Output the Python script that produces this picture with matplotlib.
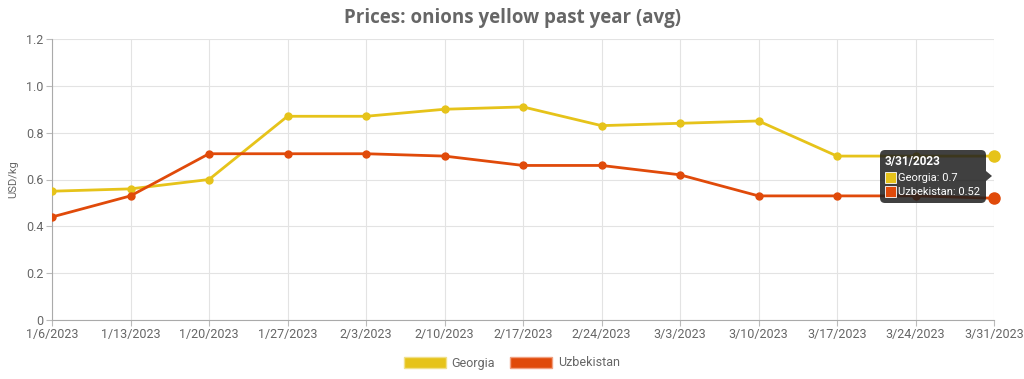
import matplotlib.pyplot as plt
from matplotlib.patches import Patch, FancyBboxPatch, Rectangle, Polygon

dates = ["1/6/2023", "1/13/2023", "1/20/2023", "1/27/2023", "2/3/2023", "2/10/2023",
         "2/17/2023", "2/24/2023", "3/3/2023", "3/10/2023", "3/17/2023", "3/24/2023",
         "3/31/2023"]
georgia = [0.55, 0.56, 0.60, 0.87, 0.87, 0.90, 0.91, 0.83, 0.84, 0.85, 0.70, 0.70, 0.70]
uzbekistan = [0.44, 0.53, 0.71, 0.71, 0.71, 0.70, 0.66, 0.66, 0.62, 0.53, 0.53, 0.53, 0.52]
y_ticks = [0, 0.2, 0.4, 0.6, 0.8, 1.0, 1.2]

c_geo = "#e6c31a"
c_uzb = "#e04a0a"
grey = "#666666"
H = 379

plt.rcParams['font.family'] = ['Roboto', 'DejaVu Sans']

fig = plt.figure(figsize=(10.24, 3.79), dpi=100)
ax = fig.add_axes([52 / 1024, 59 / H, 942 / 1024, 281 / H])

x = list(range(len(dates)))
ax.plot(x, georgia, color=c_geo, lw=2.0, marker='o', ms=5, zorder=3)
ax.plot(x, uzbekistan, color=c_uzb, lw=2.0, marker='o', ms=5, zorder=3)
# hovered points
ax.plot(x[-1], georgia[-1], 'o', color=c_geo, ms=8, zorder=4, clip_on=False)
ax.plot(x[-1], uzbekistan[-1], 'o', color=c_uzb, ms=8, zorder=4, clip_on=False)

ax.set_xlim(0, len(dates) - 1)
ax.set_ylim(0, 1.2)
ax.set_xticks(x)
ax.set_xticklabels(dates, fontsize=9, color=grey)
ax.set_yticks(y_ticks)
ax.set_yticklabels(["0", "0.2", "0.4", "0.6", "0.8", "1.0", "1.2"], fontsize=9, color=grey)
ax.tick_params(axis='both', length=4, color="#bbbbbb", pad=2)
ax.grid(color="#e3e3e3", lw=0.8)
for s in ['top', 'right']:
    ax.spines[s].set_visible(False)
for s in ['left', 'bottom']:
    ax.spines[s].set_color("#aaaaaa")
ax.set_ylabel("USD/kg", fontsize=8, color=grey, labelpad=6)

fig.text(0.5, 1 - 18 / H, "Prices: onions yellow past year (avg)", ha='center', va='center',
         fontsize=13.5, fontweight='bold', color="#666666", family=['Open Sans', 'DejaVu Sans'])

# tooltip (pixel coordinates, origin bottom-left)
tip = FancyBboxPatch((880, H - 203), 106, 53, boxstyle="round,pad=0,rounding_size=5",
                     transform=None, facecolor="#1e1e1e", alpha=0.85, edgecolor='none', zorder=10)
fig.patches.append(tip)
fig.patches.append(Polygon([(986, H - 171), (992, H - 176), (986, H - 181)], closed=True,
                           transform=None, facecolor="#1e1e1e", alpha=0.85,
                           edgecolor='none', zorder=10))
fig.text(885 / 1024, 1 - 161 / H, dates[-1], fontsize=8.5, fontweight='bold', color='white',
         va='center', ha='left', zorder=11)
for i, (name, col, val) in enumerate([("Georgia", c_geo, georgia[-1]),
                                      ("Uzbekistan", c_uzb, uzbekistan[-1])]):
    yy = 178 + i * 14
    fig.patches.append(Rectangle((885, H - yy - 5), 11, 11, transform=None,
                                 facecolor=col, edgecolor='white', lw=0.6, zorder=11))
    fig.text(898 / 1024, 1 - yy / H, f"{name}: {val:g}", fontsize=8, color='white',
             va='center', ha='left', zorder=11)

handles = [Patch(facecolor=c_geo, edgecolor='#f0e08a', label="Georgia"),
           Patch(facecolor=c_uzb, edgecolor='#f0a080', label="Uzbekistan")]
fig.legend(handles=handles, loc='center', bbox_to_anchor=(0.5, 1 - 363 / H), ncol=2,
           frameon=False, fontsize=9, handlelength=3.3, handleheight=1.0,
           columnspacing=1.2, handletextpad=0.5, labelcolor=grey)

fig.savefig("out.png", dpi=100)
